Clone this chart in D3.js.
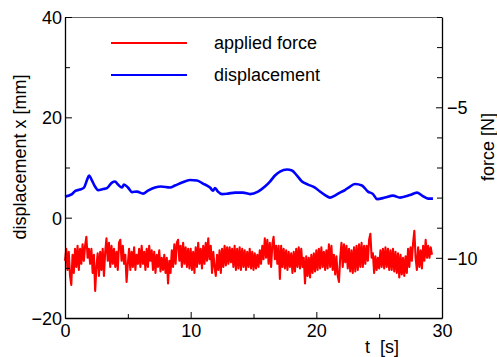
<!DOCTYPE html>
<html>
<head>
<meta charset="utf-8">
<script src="https://cdn.jsdelivr.net/npm/d3@7"></script>
<style>
  body { margin: 0; background: #fff; }
  svg { font-family: "Liberation Sans", Arial, Helvetica, sans-serif; }
</style>
</head>
<body>
<svg id="drawing_region"></svg>
<script>

// displacement [mm] (left axis), sampled by eye
const dispTime = [0, 0.56, 0.8, 1.19, 1.51, 1.75, 1.91, 2.15, 2.39, 2.63, 3.02, 3.34, 3.74, 3.98, 4.22, 4.54, 4.69, 5.01, 5.33, 5.73,
    6.21, 6.6, 7.16, 7.64, 8.36, 8.75, 9.31, 9.95, 10.5, 10.98, 11.54, 11.78, 11.94, 12.17, 12.49, 12.97, 13.53, 14.16, 14.72, 15.36,
    15.91, 16.31, 16.71, 17.11, 17.67, 18.06, 18.46, 18.86, 19.34, 19.89, 20.29, 20.69, 21.09, 21.48, 21.88, 22.28, 22.68, 23.08, 23.63, 24.11,
    24.51, 24.83, 25.46, 26.1, 26.66, 27.45, 28.01, 28.41, 28.89, 29.28];
const dispValue = [4.2, 4.7, 5.3, 5.6, 6.0, 7.5, 8.4, 7.4, 6.2, 5.5, 5.7, 5.9, 7.0, 7.2, 6.6, 6.0, 6.6, 6.0, 5.1, 5.2,
    4.8, 5.4, 6.0, 6.2, 6.0, 6.4, 7.0, 7.5, 7.4, 6.8, 6.0, 5.4, 5.9, 5.2, 4.7, 4.8, 5.0, 5.0, 4.7, 5.2,
    6.2, 7.2, 8.4, 9.2, 9.6, 9.4, 8.4, 7.2, 6.6, 6.0, 5.2, 4.5, 4.0, 4.4, 5.0, 5.5, 6.2, 6.7, 6.4, 5.2,
    4.7, 3.7, 4.0, 4.4, 4.0, 4.5, 5.0, 4.4, 3.8, 3.8];

// applied force [N] (right axis), one value every 0.1 s from t = 0
const forceStart = 0;
const forceStep = 0.1;
const forceValue = [
    -10.1, -9.7, -10.4, -9.8, -10.6, -10.9, -9.9, -10.5, -9.7, -10.3,
    -9.6, -10.4, -9.7, -10.2, -9.55, -10.1, -9.6, -9.3, -10.0, -9.7,
    -10.2, -9.7, -10.5, -9.9, -11.1, -10.3, -9.85, -10.6, -9.8, -10.4,
    -9.7, -10.6, -9.8, -9.35, -10.1, -9.5, -10.3, -9.6, -10.2, -9.7,
    -10.3, -9.8, -10.4, -9.5, -9.4, -10.1, -9.6, -10.2, -9.9, -10.8,
    -10.2, -9.7, -10.4, -9.8, -10.3, -9.65, -10.4, -9.9, -10.2, -9.7,
    -10.3, -9.6, -10.2, -9.8, -10.4, -9.7, -10.3, -9.6, -10.1, -9.75,
    -10.4, -9.8, -10.5, -9.9, -10.3, -9.75, -10.45, -10.0, -10.4, -9.9,
    -10.5, -10.0, -10.85, -10.1, -10.5, -9.75, -10.3, -9.55, -10.2, -9.5,
    -9.4, -10.1, -9.6, -10.3, -9.5, -10.2, -9.65, -10.3, -9.7, -10.35,
    -9.7, -10.4, -9.8, -10.5, -9.65, -10.3, -9.5, -10.2, -9.7, -10.35,
    -9.6, -10.2, -9.5, -10.1, -9.35, -10.05, -9.6, -10.5, -9.8, -10.3,
    -10.6, -9.9, -10.4, -9.75, -10.5, -9.7, -10.3, -9.6, -10.25, -9.65,
    -10.2, -9.65, -10.15, -9.7, -10.3, -9.6, -10.4, -9.7, -10.35, -9.65,
    -10.4, -9.7, -10.3, -9.75, -10.4, -9.8, -10.3, -9.7, -10.35, -9.8,
    -10.4, -9.85, -10.35, -9.9, -10.3, -9.75, -10.2, -9.6, -10.05, -9.35,
    -10.0, -9.4, -10.2, -9.5, -10.3, -9.55, -9.3, -10.05, -9.6, -10.2,
    -9.6, -10.7, -9.6, -10.3, -9.7, -10.35, -9.75, -10.4, -9.8, -10.3,
    -9.85, -10.5, -9.8, -10.45, -9.7, -10.3, -9.65, -10.35, -9.7, -10.3,
    -10.0, -10.85, -9.95, -10.6, -10.0, -10.65, -9.9, -10.5, -9.85, -10.45,
    -9.75, -10.4, -9.7, -10.35, -9.65, -10.3, -9.8, -10.4, -9.75, -10.35,
    -9.55, -10.3, -9.6, -10.4, -9.9, -10.55, -9.95, -10.6, -10.8, -10.0,
    -9.5, -10.3, -9.55, -10.15, -9.6, -10.35, -9.7, -10.45, -9.75, -10.5,
    -9.65, -10.45, -9.6, -10.4, -9.55, -10.3, -9.5, -10.3, -9.6, -10.2,
    -9.6, -10.1, -9.4, -9.2, -10.0, -9.85, -10.5, -9.95, -10.4, -10.0,
    -10.35, -9.75, -10.3, -9.7, -10.35, -9.65, -10.3, -9.7, -10.4, -9.75,
    -10.4, -9.7, -10.45, -9.8, -10.5, -9.85, -10.65, -9.9, -10.55, -10.0,
    -10.6, -9.95, -10.5, -9.7, -10.3, -9.65, -10.1, -9.5, -9.1, -10.0,
    -10.4, -9.65, -10.3, -9.75, -10.35, -9.6, -10.1, -9.4, -10.0, -9.6,
    -10.0, -9.65, -9.9
];

// axes
const timeDomain = [0, 30];
const timeTicks = [0, 10, 20, 30];
const timeMinorTicks = [5, 15, 25];
const dispDomain = [-20, 40];
const dispTicks = [-20, 0, 20, 40];
const dispMinorTicks = [-10, 10, 30];
const forceDomain = [-12, -2];
const forceTicks = [-10, -5];
const forceMinorTicks = [-12, -11, -9, -8, -7, -6, -4, -3, -2];

const legendLabels = ["applied force", "displacement"];
const legendColors = ["#ff0000", "#0000ff"];


class DualAxisChart {

    constructor( config ) {
        this.config = {
            parent: config.parent,
            width: config.width || 497,
            height: config.height || 357,
            margin: config.margin || {top:17, right:55, bottom:39, left:65},
        }
        this.init();
    }

    init() {
        let self = this;

        self.svg = d3.select( self.config.parent )
            .attr('width', self.config.width)
            .attr('height', self.config.height);

        self.chart = self.svg.append('g')
            .attr('transform', `translate(${self.config.margin.left}, ${self.config.margin.top})`);

        self.inner_width = self.config.width - self.config.margin.left - self.config.margin.right;
        self.inner_height = self.config.height - self.config.margin.top - self.config.margin.bottom;

        self.xscale = d3.scaleLinear().domain( timeDomain ).range( [0, self.inner_width] );
        self.yscale = d3.scaleLinear().domain( dispDomain ).range( [self.inner_height, 0] );
        self.fscale = d3.scaleLinear().domain( forceDomain ).range( [self.inner_height, 0] );
    }

    render() {
        let self = this;
        const w = self.inner_width, h = self.inner_height;

        // top border
        self.chart.append('line')
            .attr('x1', 0).attr('x2', w)
            .attr('y1', 0.5).attr('y2', 0.5)
            .attr('stroke', '#666')
            .attr('stroke-width', 1.2);

        // data lines
        const forceLine = d3.line()
            .x( (d, i) => self.xscale( forceStart + i * forceStep ) )
            .y( d => self.fscale( d ) );
        self.chart.append('path')
            .datum( forceValue )
            .attr('fill', 'none')
            .attr('stroke', legendColors[0])
            .attr('stroke-width', 2.1)
            .attr('stroke-linejoin', 'round')
            .attr('d', forceLine);

        const dispLine = d3.line()
            .x( (d, i) => self.xscale( dispTime[i] ) )
            .y( d => self.yscale( d ) )
            .curve( d3.curveMonotoneX );
        self.chart.append('path')
            .datum( dispValue )
            .attr('fill', 'none')
            .attr('stroke', legendColors[1])
            .attr('stroke-width', 2.6)
            .attr('stroke-linejoin', 'round')
            .attr('d', dispLine);

        // axes (ticks point inward)
        const style = g => {
            g.select('.domain').attr('stroke', '#000').attr('stroke-width', 1.3);
            g.selectAll('.tick line').attr('stroke', '#000');
            g.selectAll('.tick text')
                .attr('fill', '#000')
                .attr('font-size', '18px')
                .attr('font-family', '"Liberation Sans", Arial, sans-serif');
        };

        self.chart.append('g')
            .attr('transform', `translate(0, ${h})`)
            .call( d3.axisBottom( self.xscale ).tickValues( timeTicks ).tickSizeInner(-6).tickSizeOuter(0).tickPadding(6) )
            .call( style );
        self.chart.append('g')
            .attr('transform', `translate(0, ${h})`)
            .call( d3.axisBottom( self.xscale ).tickValues( timeMinorTicks ).tickSize(-4).tickFormat('') )
            .call( g => g.select('.domain').remove() );

        self.chart.append('g')
            .call( d3.axisLeft( self.yscale ).tickValues( dispTicks ).tickSizeInner(-7).tickSizeOuter(0).tickPadding(3) )
            .call( style )
            .call( g => g.selectAll('.tick text').attr('dy', '0.36em') );
        self.chart.append('g')
            .call( d3.axisLeft( self.yscale ).tickValues( dispMinorTicks ).tickSize(-5).tickFormat('') )
            .call( g => g.select('.domain').remove() );

        self.chart.append('g')
            .attr('transform', `translate(${w}, 0)`)
            .call( d3.axisRight( self.fscale ).tickValues( forceTicks ).tickSizeInner(-6).tickSizeOuter(0).tickPadding(5) )
            .call( style )
            .call( g => g.selectAll('.tick text').attr('dy', '0.36em') );
        self.chart.append('g')
            .attr('transform', `translate(${w}, 0)`)
            .call( d3.axisRight( self.fscale ).tickValues( forceMinorTicks ).tickSize(-5).tickFormat('') )
            .call( g => g.select('.domain').remove() );

        // axis labels
        self.chart.append('text')
            .attr('x', 300)
            .attr('y', h + 35)
            .attr('font-size', '18px')
            .attr('fill', '#000')
            .style('white-space', 'pre')
            .text('t  [s]');

        self.chart.append('text')
            .attr('transform', `translate(-39, ${157 - self.config.margin.top}) rotate(-90)`)
            .attr('text-anchor', 'middle')
            .attr('font-size', '18px')
            .attr('fill', '#000')
            .text('displacement x [mm]');

        self.chart.append('text')
            .attr('transform', `translate(${w + 52}, ${147 - self.config.margin.top}) rotate(-90)`)
            .attr('text-anchor', 'middle')
            .attr('font-size', '18px')
            .attr('fill', '#000')
            .text('force [N]');

        // legend
        const legend = self.chart.append('g')
            .attr('transform', 'translate(46, 26)');
        legendLabels.forEach( (label, i) => {
            legend.append('line')
                .attr('x1', 0).attr('x2', 76)
                .attr('y1', i * 32).attr('y2', i * 32)
                .attr('stroke', legendColors[i])
                .attr('stroke-width', 2);
            legend.append('text')
                .attr('x', 103)
                .attr('y', i * 32 + 6)
                .attr('font-size', '18px')
                .attr('fill', '#000')
                .text(label);
        });
    }
}

const chart = new DualAxisChart({ parent: '#drawing_region', width: 497, height: 357 });
chart.render();

</script>
</body>
</html>
